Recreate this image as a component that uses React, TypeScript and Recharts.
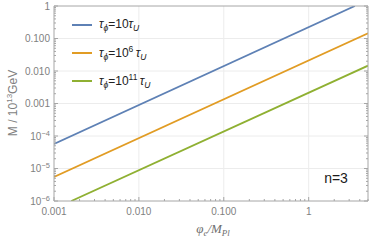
import React from 'react';
import { LineChart, Line, XAxis, YAxis, CartesianGrid, Legend } from 'recharts';

// values (log-log, straight lines)
const blueData = [
  { x: 0.001, y: 5.7e-5 },
  { x: 3.5, y: 1 },
];
const orangeData = [
  { x: 0.001, y: 5.5e-6 },
  { x: 5, y: 0.145 },
];
const greenData = [
  { x: 0.0016, y: 1e-6 },
  { x: 5, y: 0.0146 },
];

const seriesColors = ['#5E81B5', '#E19C24', '#8FB032'];
const seriesExponents = ['', '6', '11'];
const seriesData = [blueData, orangeData, greenData];

const xDomain = [0.001, 5];
const yDomain = [1e-6, 1];

const xMajorTicks = [0.001, 0.01, 0.1, 1];
const xMajorLabels = ['0.001', '0.010', '0.100', '1'];
const yMajorTicks = [1e-6, 1e-5, 1e-4, 0.001, 0.01, 0.1, 1];
const yMajorLabels = ['10^−6', '10^−5', '10^−4', '0.001', '0.010', '0.100', '1'];

const xGrid = [0.01, 0.1, 1];
const yGrid = [1e-5, 1e-4, 0.001, 0.01, 0.1];

const minorTicks = (lo: number, hi: number, max: number) => {
  const out: number[] = [];
  for (let e = lo; e < hi; e++) {
    for (let k = 2; k <= 9; k++) {
      const v = k * Math.pow(10, e);
      if (v <= max) out.push(v);
    }
  }
  return out;
};

const xTicks = [...xMajorTicks, ...minorTicks(-3, 1, 5)];
const yTicks = [...yMajorTicks, ...minorTicks(-6, 0, 1)];

const FRAME = '#a6a6a6';
const LABEL = '#7f7f7f';
const SANS = '"Liberation Sans", Arial, sans-serif';
const SERIF = '"Liberation Serif", "Times New Roman", serif';

const tickText = (label: string, x: number, y: number, anchor: string) => {
  const [base, sup] = label.split('^');
  return (
    <text x={x} y={y} textAnchor={anchor} fontSize={10} fill={LABEL} fontFamily={SANS}>
      {base}
      {sup && (
        <tspan dy={-4} fontSize={7.5}>
          {sup}
        </tspan>
      )}
    </text>
  );
};

const LeftTick = ({ x, y, payload }: any) => {
  const i = yMajorTicks.indexOf(payload.value);
  const len = i >= 0 ? 4 : 2;
  return (
    <g>
      <line x1={x} x2={x + len} y1={y} y2={y} stroke={FRAME} />
      {i >= 0 && tickText(yMajorLabels[i], x - 4, y + 3.5, 'end')}
    </g>
  );
};

const RightTick = ({ x, y, payload }: any) => {
  const len = yMajorTicks.includes(payload.value) ? 4 : 2;
  return <line x1={x} x2={x - len} y1={y} y2={y} stroke={FRAME} />;
};

const BottomTick = ({ x, y, payload }: any) => {
  const i = xMajorTicks.indexOf(payload.value);
  const len = i >= 0 ? 4 : 2;
  return (
    <g>
      <line x1={x} x2={x} y1={y} y2={y - len} stroke={FRAME} />
      {i >= 0 && tickText(xMajorLabels[i], x, y + 13.5, 'middle')}
    </g>
  );
};

const TopTick = ({ x, y, payload }: any) => {
  const len = xMajorTicks.includes(payload.value) ? 4 : 2;
  return <line x1={x} x2={x} y1={y} y2={y + len} stroke={FRAME} />;
};

const yTitle = () => (
  <text
    transform="translate(17, 103) rotate(-90)"
    textAnchor="middle"
    fontSize={12}
    fill={LABEL}
    fontFamily={SANS}
  >
    M / 10
    <tspan dy={-5} fontSize={8}>13</tspan>
    <tspan dy={5}>GeV</tspan>
  </text>
);

const xTitle = () => (
  <text x={213} y={233} textAnchor="middle" fontSize={13} fill="#6f6f6f" fontFamily={SERIF} fontStyle="italic">
    φ
    <tspan dy={2.5} fontSize={9}>e</tspan>
    <tspan dy={-2.5}>/M</tspan>
    <tspan dy={2.5} fontSize={9}>Pl</tspan>
  </text>
);

const note = () => (
  <text x={336} y={183} textAnchor="middle" fontSize={14} fill="#1a1a1a" fontFamily={SANS}>
    n=3
  </text>
);

const renderLegend = () => (
  <div style={{ fontFamily: SANS, fontSize: 12, color: '#222' }}>
    {seriesColors.map((c, i) => (
      <div key={c} style={{ display: 'flex', alignItems: 'center', height: 28 }}>
        <span style={{ display: 'inline-block', width: 20, height: 2, background: c, marginRight: 7 }} />
        <span style={{ whiteSpace: 'nowrap' }}>
          <i>τ</i>
          <sub style={{ fontSize: 8.5 }}>
            <i>ϕ</i>
          </sub>
          =10
          {seriesExponents[i] && <sup style={{ fontSize: 8.5 }}>{seriesExponents[i]}</sup>}
          {seriesExponents[i] ? '\u2009' : ''}
          <i>τ</i>
          <sub style={{ fontSize: 8.5 }}>
            <i>U</i>
          </sub>
        </span>
      </div>
    ))}
  </div>
);

export default function App() {
  return (
    <div style={{ position: 'absolute', left: 0, top: 0, width: 374, height: 240, background: '#fff' }}>
      <LineChart width={374} height={240} margin={{ top: 5, right: 5, bottom: 0, left: 0 }}>
        <CartesianGrid horizontalValues={yGrid} verticalValues={xGrid} stroke="#ececec" />
        <XAxis
          dataKey="x"
          type="number"
          scale="log"
          domain={xDomain}
          allowDataOverflow
          ticks={xTicks}
          interval={0}
          tickSize={0}
          tickMargin={0}
          tickLine={false}
          tick={<BottomTick />}
          axisLine={{ stroke: FRAME }}
          height={39}
          label={xTitle}
        />
        <XAxis
          xAxisId="top"
          orientation="top"
          type="number"
          scale="log"
          domain={xDomain}
          allowDataOverflow
          ticks={xTicks}
          interval={0}
          tickSize={0}
          tickMargin={0}
          tickLine={false}
          tick={<TopTick />}
          axisLine={{ stroke: FRAME }}
          height={1}
        />
        <YAxis
          type="number"
          scale="log"
          domain={yDomain}
          allowDataOverflow
          ticks={yTicks}
          interval={0}
          tickSize={0}
          tickMargin={0}
          tickLine={false}
          tick={<LeftTick />}
          axisLine={{ stroke: FRAME }}
          width={54}
          label={yTitle}
        />
        <YAxis
          yAxisId="right"
          orientation="right"
          type="number"
          scale="log"
          domain={yDomain}
          allowDataOverflow
          ticks={yTicks}
          interval={0}
          tickSize={0}
          tickMargin={0}
          tickLine={false}
          tick={<RightTick />}
          axisLine={{ stroke: FRAME }}
          width={1}
          label={note}
        />
        <Legend
          layout="vertical"
          align="center"
          verticalAlign="middle"
          wrapperStyle={{ left: 72, top: 11, width: 'auto' }}
          content={renderLegend}
        />
        {seriesData.map((d, i) => (
          <Line
            key={i}
            data={d}
            dataKey="y"
            type="linear"
            stroke={seriesColors[i]}
            strokeWidth={1.8}
            dot={false}
            isAnimationActive={false}
          />
        ))}
      </LineChart>
    </div>
  );
}
